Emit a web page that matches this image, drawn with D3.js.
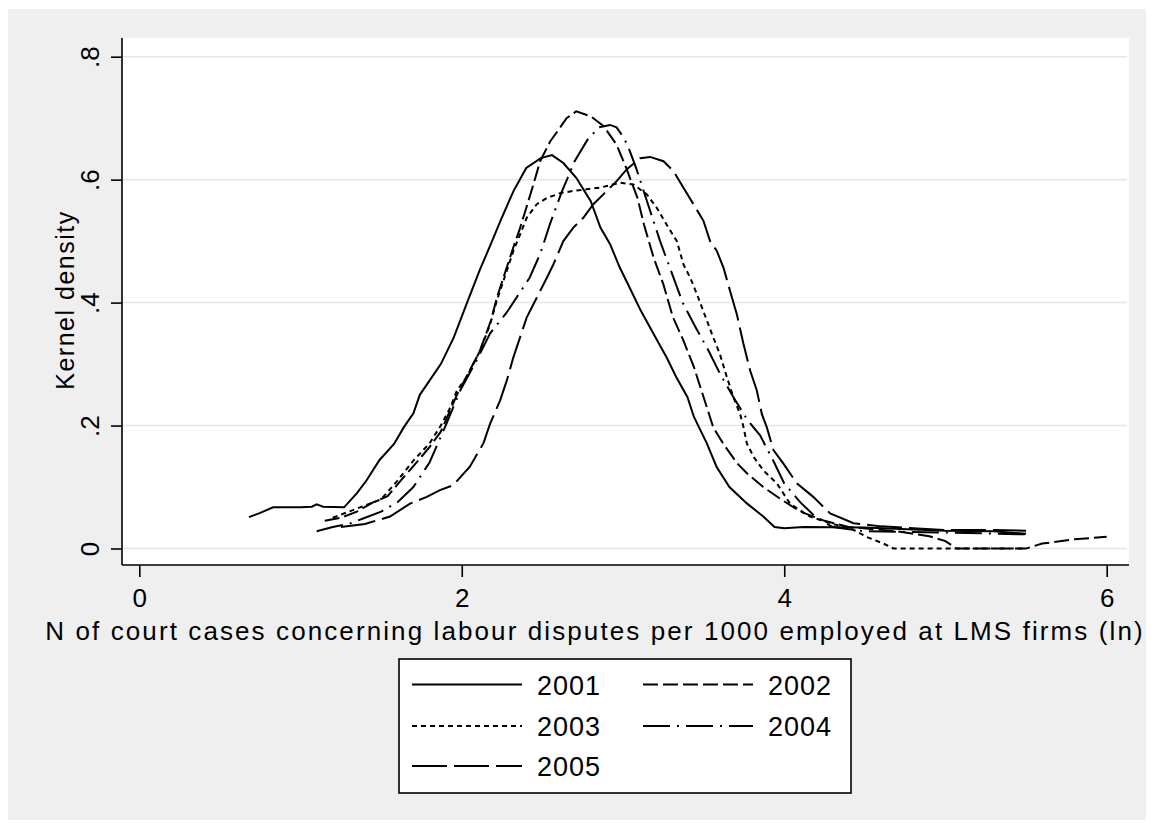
<!DOCTYPE html>
<html><head><meta charset="utf-8">
<script src="https://cdn.jsdelivr.net/npm/d3@7"></script>
<style>html,body{margin:0;padding:0;background:#fff;}svg{display:block;}</style>
</head><body>
<svg id="chart" width="1154" height="828"></svg>
<script>
const years = ["2001","2002","2003","2004","2005"];
const xTicks = [0,2,4,6];
const yTicks = [0,0.2,0.4,0.6,0.8];
const yTickLabels = ["0",".2",".4",".6",".8"];
const xTitle = "N of court cases concerning labour disputes per 1000 employed at LMS firms (ln)";
const yTitle = "Kernel density";

const s2001 = [[0.68,0.051],[0.75,0.058],[0.83,0.067],[1.0,0.067],[1.07,0.068],[1.1,0.072],[1.14,0.068],[1.27,0.067],[1.35,0.09],[1.41,0.111],[1.49,0.144],[1.58,0.17],[1.64,0.197],[1.70,0.22],[1.74,0.25],[1.80,0.273],[1.87,0.30],[1.95,0.343],[2.03,0.398],[2.11,0.452],[2.18,0.495],[2.24,0.533],[2.32,0.581],[2.40,0.619],[2.49,0.635],[2.56,0.64],[2.63,0.627],[2.71,0.603],[2.80,0.565],[2.86,0.522],[2.92,0.495],[2.98,0.457],[3.04,0.425],[3.11,0.387],[3.19,0.349],[3.27,0.311],[3.33,0.279],[3.40,0.246],[3.44,0.214],[3.52,0.171],[3.58,0.133],[3.66,0.100],[3.77,0.073],[3.87,0.052],[3.94,0.035],[4.0,0.033],[4.12,0.035],[4.5,0.034],[4.8,0.031],[5.0,0.029],[5.3,0.028],[5.5,0.024]];
const s2002 = [[1.15,0.045],[1.25,0.05],[1.35,0.06],[1.45,0.075],[1.54,0.085],[1.62,0.11],[1.72,0.14],[1.8,0.165],[1.87,0.19],[1.92,0.22],[1.97,0.25],[2.03,0.28],[2.11,0.32],[2.18,0.37],[2.22,0.41],[2.27,0.45],[2.32,0.49],[2.36,0.52],[2.40,0.554],[2.444,0.592],[2.486,0.63],[2.548,0.662],[2.6,0.681],[2.65,0.70],[2.71,0.711],[2.80,0.703],[2.88,0.687],[2.96,0.657],[3.02,0.619],[3.09,0.570],[3.13,0.527],[3.19,0.473],[3.25,0.430],[3.31,0.376],[3.375,0.338],[3.44,0.295],[3.50,0.246],[3.56,0.197],[3.62,0.171],[3.71,0.138],[3.77,0.122],[3.87,0.10],[3.98,0.08],[4.1,0.06],[4.25,0.045],[4.4,0.035],[4.7,0.028],[4.9,0.02],[5.0,0.012],[5.07,0.0],[5.5,0.0],[5.6,0.008],[5.8,0.015],[6.0,0.019]];
const s2003 = [[1.2,0.05],[1.3,0.06],[1.4,0.07],[1.5,0.08],[1.6,0.11],[1.7,0.143],[1.8,0.171],[1.87,0.2],[1.93,0.23],[1.97,0.257],[2.031,0.279],[2.114,0.322],[2.176,0.365],[2.217,0.403],[2.258,0.435],[2.32,0.484],[2.362,0.511],[2.403,0.538],[2.465,0.56],[2.527,0.57],[2.61,0.578],[2.7,0.582],[2.858,0.587],[2.98,0.595],[3.065,0.592],[3.148,0.576],[3.21,0.554],[3.27,0.527],[3.334,0.50],[3.375,0.462],[3.416,0.441],[3.458,0.414],[3.52,0.371],[3.56,0.343],[3.60,0.317],[3.644,0.279],[3.685,0.246],[3.726,0.219],[3.747,0.198],[3.768,0.171],[3.81,0.149],[3.871,0.127],[3.954,0.106],[4.036,0.073],[4.098,0.062],[4.16,0.052],[4.3,0.04],[4.41,0.033],[4.51,0.019],[4.615,0.008],[4.677,0.0],[5.5,0.0]];
const s2004 = [[1.1,0.028],[1.2,0.035],[1.3,0.04],[1.4,0.05],[1.5,0.06],[1.6,0.075],[1.7,0.10],[1.8,0.14],[1.9,0.2],[1.99,0.257],[2.1,0.31],[2.176,0.35],[2.279,0.384],[2.42,0.44],[2.486,0.479],[2.55,0.53],[2.62,0.58],[2.7,0.63],[2.78,0.665],[2.85,0.685],[2.92,0.689],[2.96,0.685],[3.0,0.67],[3.03,0.655],[3.08,0.62],[3.13,0.58],[3.18,0.54],[3.23,0.50],[3.30,0.45],[3.37,0.40],[3.45,0.36],[3.53,0.322],[3.6,0.285],[3.685,0.246],[3.77,0.21],[3.85,0.184],[3.93,0.144],[4.0,0.106],[4.1,0.075],[4.2,0.05],[4.3,0.035],[4.5,0.028],[5.0,0.026],[5.5,0.023]];
const s2005 = [[1.25,0.035],[1.4,0.04],[1.555,0.052],[1.679,0.073],[1.783,0.084],[1.865,0.095],[1.947,0.103],[2.05,0.133],[2.134,0.171],[2.176,0.203],[2.238,0.241],[2.279,0.273],[2.32,0.311],[2.403,0.376],[2.465,0.408],[2.527,0.44],[2.568,0.462],[2.63,0.5],[2.692,0.522],[2.754,0.538],[2.816,0.56],[2.878,0.576],[2.962,0.598],[3.024,0.617],[3.106,0.635],[3.168,0.637],[3.251,0.63],[3.313,0.614],[3.375,0.587],[3.437,0.56],[3.499,0.533],[3.54,0.50],[3.582,0.484],[3.623,0.457],[3.664,0.419],[3.706,0.381],[3.747,0.333],[3.789,0.289],[3.83,0.257],[3.861,0.219],[3.892,0.197],[3.933,0.160],[3.995,0.138],[4.078,0.106],[4.18,0.084],[4.285,0.057],[4.43,0.041],[4.6,0.036],[4.8,0.033],[5.0,0.03],[5.3,0.03],[5.5,0.029]];
const seriesData = [s2001,s2002,s2003,s2004,s2005];
const dashes = [null,"15,5","5,4","27,7,2,7","35,7"];

const svg = d3.select("#chart");
const FONT = "'Liberation Sans', Arial, sans-serif";
svg.append("rect").attr("x",8).attr("y",9).attr("width",1138).attr("height",811).attr("fill","#efefef");

const pL=122, pR=1129, pT=38, pB=565;
svg.append("rect").attr("x",pL).attr("y",pT).attr("width",pR-pL).attr("height",pB-pT).attr("fill","#fff");

const x = d3.scaleLinear().domain([0,6]).range([139.3,1106.7]);
const y = d3.scaleLinear().domain([0,0.8]).range([548.5,56.7]);

// gridlines
svg.append("g").selectAll("line").data(yTicks).join("line")
  .attr("x1",pL).attr("x2",pR-2).attr("y1",d=>y(d)).attr("y2",d=>y(d))
  .attr("stroke","#e6e6e6").attr("stroke-width",1.5);

// axes
const yAxis = d3.axisLeft(y).tickValues(yTicks).tickSize(11).tickFormat((d,i)=>yTickLabels[i]);
const gy = svg.append("g").attr("transform",`translate(${pL},0)`).call(yAxis);
gy.select(".domain").attr("d",`M0,${pT}V${pB}`).attr("stroke","#000").attr("stroke-width",1.6);
gy.selectAll(".tick line").attr("stroke","#000").attr("stroke-width",1.6);
gy.selectAll(".tick text").attr("font-family",FONT).attr("font-size",26).attr("fill","#000")
  .attr("transform","rotate(-90)").attr("x",0).attr("y",-23).attr("dy",0).attr("text-anchor","middle");

const xAxis = d3.axisBottom(x).tickValues(xTicks).tickSize(12).tickFormat(d3.format("d"));
const gx = svg.append("g").attr("transform",`translate(0,${pB})`).call(xAxis);
gx.select(".domain").attr("d",`M${pL},0H${pR}`).attr("stroke","#000").attr("stroke-width",1.6);
gx.selectAll(".tick line").attr("stroke","#000").attr("stroke-width",1.6);
gx.selectAll(".tick text").attr("font-family",FONT).attr("font-size",26).attr("fill","#000").attr("y",42).attr("dy",0);

// titles
svg.append("text").attr("x",595).attr("y",640).attr("text-anchor","middle")
  .attr("font-family",FONT).attr("font-size",26).attr("letter-spacing",2.1).text(xTitle);
svg.append("text").attr("transform","translate(74,300) rotate(-90)").attr("text-anchor","middle")
  .attr("font-family",FONT).attr("font-size",25).attr("letter-spacing",1.5).text(yTitle);

// lines
const line = d3.line().x(d=>x(d[0])).y(d=>y(d[1]));
svg.append("g").selectAll("path").data(seriesData).join("path")
  .attr("d",line).attr("fill","none").attr("stroke","#000").attr("stroke-width",2)
  .attr("stroke-dasharray",(d,i)=>dashes[i]);

// legend
const lg = svg.append("g");
lg.append("rect").attr("x",399).attr("y",659).attr("width",452).attr("height",134).attr("fill","#fff").attr("stroke","#000").attr("stroke-width",1.6);
const legPos = [[412,684.5],[643,684.5],[412,726],[643,726],[412,766]];
years.forEach((yr,i)=>{
  const [lx,ly]=legPos[i];
  lg.append("line").attr("x1",lx).attr("x2",lx+110).attr("y1",ly).attr("y2",ly)
    .attr("stroke","#000").attr("stroke-width",2).attr("stroke-dasharray",dashes[i]);
  lg.append("text").attr("x",lx+125).attr("y",ly+10).attr("font-family",FONT).attr("font-size",27)
    .attr("letter-spacing",1).text(yr);
});
</script>
</body></html>
